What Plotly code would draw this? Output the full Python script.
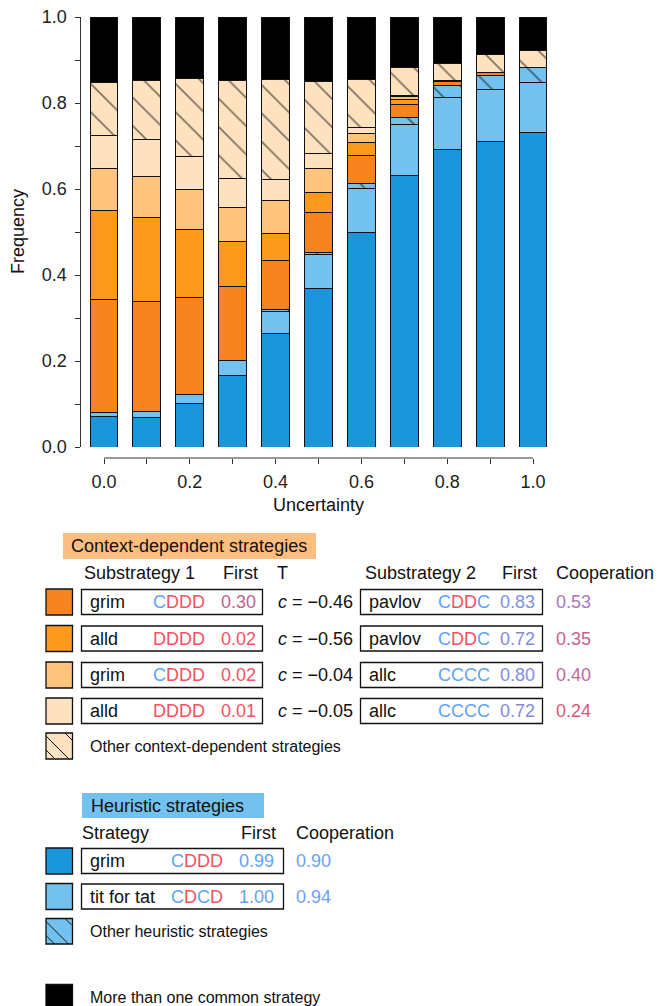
import plotly.graph_objects as go

OX, OY = 0, 0
W, H = 659, 1006

# ---------------- data ----------------
uncertainty = [0.0, 0.1, 0.2, 0.3, 0.4, 0.5, 0.6, 0.7, 0.8, 0.9, 1.0]
heur_grim = [0.070, 0.068, 0.101, 0.166, 0.263, 0.369, 0.498, 0.631, 0.693, 0.710, 0.732]
heur_tft = [0.011, 0.014, 0.021, 0.036, 0.052, 0.079, 0.104, 0.120, 0.120, 0.122, 0.116]
heur_other = [0.000, 0.000, 0.000, 0.000, 0.004, 0.004, 0.010, 0.015, 0.027, 0.033, 0.034]
ctx_grim_pavlov = [0.261, 0.256, 0.225, 0.171, 0.115, 0.093, 0.067, 0.031, 0.010, 0.006, 0.000]
ctx_alld_pavlov = [0.207, 0.195, 0.159, 0.105, 0.063, 0.048, 0.028, 0.011, 0.003, 0.000, 0.000]
ctx_grim_allc = [0.098, 0.097, 0.092, 0.078, 0.076, 0.055, 0.023, 0.006, 0.000, 0.000, 0.000]
ctx_alld_allc = [0.078, 0.086, 0.077, 0.068, 0.048, 0.034, 0.014, 0.003, 0.000, 0.000, 0.000]
ctx_other = [0.122, 0.137, 0.182, 0.229, 0.234, 0.169, 0.110, 0.066, 0.039, 0.041, 0.040]
multi_common = [0.153, 0.147, 0.143, 0.147, 0.145, 0.149, 0.146, 0.117, 0.108, 0.088, 0.078]

y_ticks = [0.0, 0.2, 0.4, 0.6, 0.8, 1.0]
x_ticks = [0.0, 0.1, 0.2, 0.3, 0.4, 0.5, 0.6, 0.7, 0.8, 0.9, 1.0]
x_ticklabels = ["0.0", "", "0.2", "", "0.4", "", "0.6", "", "0.8", "", "1.0"]

ctx_sub1 = ["grim", "alld", "grim", "alld"]
ctx_sub1_code = [("C", "DDD"), ("", "DDDD"), ("C", "DDD"), ("", "DDDD")]
ctx_sub1_first = ["0.30", "0.02", "0.02", "0.01"]
ctx_T = ["−0.46", "−0.56", "−0.04", "−0.05"]
ctx_sub2 = ["pavlov", "pavlov", "allc", "allc"]
ctx_sub2_first = ["0.83", "0.72", "0.80", "0.72"]
ctx_coop = ["0.53", "0.35", "0.40", "0.24"]
heur_names = ["grim", "tit for tat"]
heur_first = ["0.99", "1.00"]
heur_coop = ["0.90", "0.94"]

# ---------------- styles ----------------
C_BLUE = "#1c96db"
C_LBLUE = "#72c1ee"
C_DORANGE = "#f7841f"
C_ORANGE = "#fd9a1c"
C_LORANGE = "#fec47e"
C_LLORANGE = "#fee2bf"
CC = "#5fa3f5"   # C letter
CD = "#f4525f"   # D letter
FONT = "Liberation Sans, Arial, Helvetica, sans-serif"
TXT = "#111111"

BW = 0.065

fig = go.Figure()

def add_bar(vals, color, name, hatch=False):
    marker = dict(color=color, line=dict(color="#111111", width=1))
    if hatch:
        marker["pattern"] = dict(shape="\\", fgcolor="#000000", bgcolor=color,
                                 size=20, solidity=0.085)
    fig.add_trace(go.Bar(x=uncertainty, y=vals, width=BW, name=name, marker=marker,
                         showlegend=False))

add_bar(heur_grim, C_BLUE, "grim")
add_bar(heur_tft, C_LBLUE, "tit for tat")
add_bar(heur_other, C_LBLUE, "Other heuristic", hatch=True)
add_bar(ctx_grim_pavlov, C_DORANGE, "grim/pavlov")
add_bar(ctx_alld_pavlov, C_ORANGE, "alld/pavlov")
add_bar(ctx_grim_allc, C_LORANGE, "grim/allc")
add_bar(ctx_alld_allc, C_LLORANGE, "alld/allc")
add_bar(ctx_other, C_LLORANGE, "Other context", hatch=True)
add_bar(multi_common, "#000000", "More than one")

def px(x):
    return (x - OX) / W

def py(y):
    return 1 - (y - OY) / H

ppu = 429.0
x_left_px, x0_px = 80.5, 104.0
x_range_lo = -(x0_px - x_left_px) / ppu
x_right_px = 550.0
x_range_hi = (x_right_px - x0_px) / ppu

axis_pos = py(458)

fig.update_layout(
    width=W, height=H,
    margin=dict(l=0, r=0, t=0, b=0, autoexpand=False),
    paper_bgcolor="white", plot_bgcolor="rgba(0,0,0,0)",
    barmode="stack",
    font=dict(family=FONT, size=18, color=TXT),
    xaxis=dict(domain=[px(x_left_px), px(x_right_px)], range=[x_range_lo, x_range_hi],
               anchor="free", position=axis_pos, automargin=False,
               showline=False, showgrid=False, zeroline=False,
               tickmode="array", tickvals=x_ticks, ticktext=x_ticklabels,
               ticks="outside", ticklen=5, tickwidth=1, tickcolor="#333333",
               tickfont=dict(size=18, color="#222222"), ticklabelstandoff=2,
               ticklabeloverflow="allow"),
    yaxis=dict(domain=[py(447), py(17)], range=[0, 1], anchor="x", automargin=False,
               showline=True, linecolor="#333333", linewidth=1,
               showgrid=False, zeroline=False,
               tickmode="array", tickvals=y_ticks, ticktext=[f"{v:.1f}" for v in y_ticks],
               ticks="outside", ticklen=5, tickwidth=1, tickcolor="#333333",
               minor=dict(dtick=0.1, ticks="outside", ticklen=5, tickwidth=1,
                          tickcolor="#333333", showgrid=False),
               tickfont=dict(size=18, color="#222222"), ticklabelstandoff=4,
               ticklabeloverflow="allow"),
    bargap=0,
)

shapes = []
ann = []

# detached x axis line spanning 0..1
shapes.append(dict(type="line", xref="x", yref="paper", x0=x_ticks[0], x1=x_ticks[-1],
                   y0=axis_pos, y1=axis_pos, line=dict(color="#333333", width=1)))

ann.append(dict(text="Uncertainty", x=px(318), y=py(505), xref="paper", yref="paper",
                showarrow=False, xanchor="center", yanchor="middle", font=dict(size=18)))
ann.append(dict(text="Frequency", x=px(18), y=py(232), xref="paper", yref="paper",
                showarrow=False, xanchor="center", yanchor="middle", textangle=-90,
                font=dict(size=18)))

def text(t, x, y, anchor="left", size=18, color=TXT):
    ann.append(dict(text=t, x=px(x), y=py(y), xref="paper", yref="paper", showarrow=False,
                    xanchor=anchor, yanchor="middle", font=dict(size=size, color=color)))

def rect(x0, y0, x1, y1, fill=None, lw=1.3, lc="#111111"):
    d = dict(type="rect", xref="paper", yref="paper", x0=px(x0), x1=px(x1),
             y0=py(y1), y1=py(y0), line=dict(color=lc, width=lw))
    if fill:
        d["fillcolor"] = fill
    shapes.append(d)

def hatch_lines(x0, y0, s, offsets=(-19, 3, 17)):
    # diagonal "\" lines inside square [x0,x0+s]x[y0,y0+s] (pixel coords, y down)
    path = ""
    for off in offsets:
        xa = max(x0, x0 - off)
        xb = min(x0 + s, x0 + s - off)
        if xb <= xa:
            continue
        ya = y0 + (xa - x0) + off
        yb = y0 + (xb - x0) + off
        path += f"M{px(xa)},{py(ya)} L{px(xb)},{py(yb)} "
    shapes.append(dict(type="path", xref="paper", yref="paper", path=path,
                       line=dict(color="#111111", width=1)))

def cdcode(pre, rest):
    s = ""
    if pre:
        s += f"<span style='color:{CC}'>{pre}</span>"
    s += f"<span style='color:{CD}'>{rest}</span>"
    return s

# ----- Context-dependent section -----
rect(63, 533, 316, 559, fill="#fdbe7f", lw=0)
text("Context-dependent strategies", 69, 546)
hy = 573
text("Substrategy 1", 82, hy)
text("First", 221, hy)
text("T", 275, hy)
text("Substrategy 2", 363, hy)
text("First", 500, hy)
text("Cooperation", 554, hy)

row_y = [602, 638.5, 675, 711]
swatch_cols = [C_DORANGE, C_ORANGE, C_LORANGE, C_LLORANGE]
sub1_first_cols = ["#c0628a", CD, CD, CD]
sub2_code = [("C", "DD", "C"), ("C", "DD", "C"), ("CCCC", "", ""), ("CCCC", "", "")]
sub2_first_cols = ["#7f8fe2", "#8688d2", "#7f8ce0", "#8688d2"]
coop_cols = ["#a878b8", "#c8608e", "#b86a9f", "#d65878"]
for i, yc in enumerate(row_y):
    rect(46, yc - 13, 72.5, yc + 13, fill=swatch_cols[i])
    rect(81.5, yc - 12.5, 262.5, yc + 12.5)
    text(ctx_sub1[i], 87.5, yc)
    text(cdcode(*ctx_sub1_code[i]), 207, yc, anchor="right")
    text(ctx_sub1_first[i], 258, yc, anchor="right", color=sub1_first_cols[i])
    text(f"<i>c</i> = {ctx_T[i]}", 276, yc)
    rect(360.5, yc - 12.5, 542.5, yc + 12.5)
    text(ctx_sub2[i], 366.5, yc)
    a, b, c = sub2_code[i]
    code2 = f"<span style='color:{CC}'>{a}</span>"
    if b:
        code2 += f"<span style='color:{CD}'>{b}</span><span style='color:{CC}'>{c}</span>"
    text(code2, 492, yc, anchor="right")
    text(ctx_sub2_first[i], 537, yc, anchor="right", color=sub2_first_cols[i])
    text(ctx_coop[i], 554, yc, color=coop_cols[i])

rect(46, 733, 72.5, 759, fill=C_LLORANGE)
hatch_lines(46, 733, 26.5)
text("Other context-dependent strategies", 88, 746, size=16)

# ----- Heuristic section -----
rect(82, 793, 264, 818, fill="#72c1ee", lw=0)
text("Heuristic strategies", 89, 805.5)
hy2 = 832.5
text("Strategy", 80, hy2)
text("First", 239, hy2)
text("Cooperation", 294, hy2)
heur_rows = [861, 896.5]
heur_cols = [C_BLUE, C_LBLUE]
for i, yc in enumerate(heur_rows):
    rect(46, yc - 13, 72.5, yc + 13, fill=heur_cols[i])
    rect(81.5, yc - 12.5, 283.5, yc + 12.5)
    text(heur_names[i], 88, yc)
    if i == 0:
        code = cdcode("C", "DDD")
    else:
        code = (f"<span style='color:{CC}'>C</span><span style='color:{CD}'>D</span>"
                f"<span style='color:{CC}'>C</span><span style='color:{CD}'>D</span>")
    text(code, 225, yc, anchor="right")
    text(heur_first[i], 275.5, yc, anchor="right", color="#5fa3f5")
    text(heur_coop[i], 294, yc, color="#6f9ff0")

rect(46, 918.5, 72.5, 944, fill=C_LBLUE)
hatch_lines(46, 918.5, 25.5)
text("Other heuristic strategies", 88, 931, size=16)

rect(46, 984.5, 72.5, 1010, fill="#000000")
text("More than one common strategy", 88, 997.5, size=16)

fig.update_layout(shapes=shapes, annotations=ann)
fig.write_html("out.html", config={"displayModeBar": False, "staticPlot": True},
               post_script="document.body.style.margin='0';document.body.style.overflow='hidden';")
